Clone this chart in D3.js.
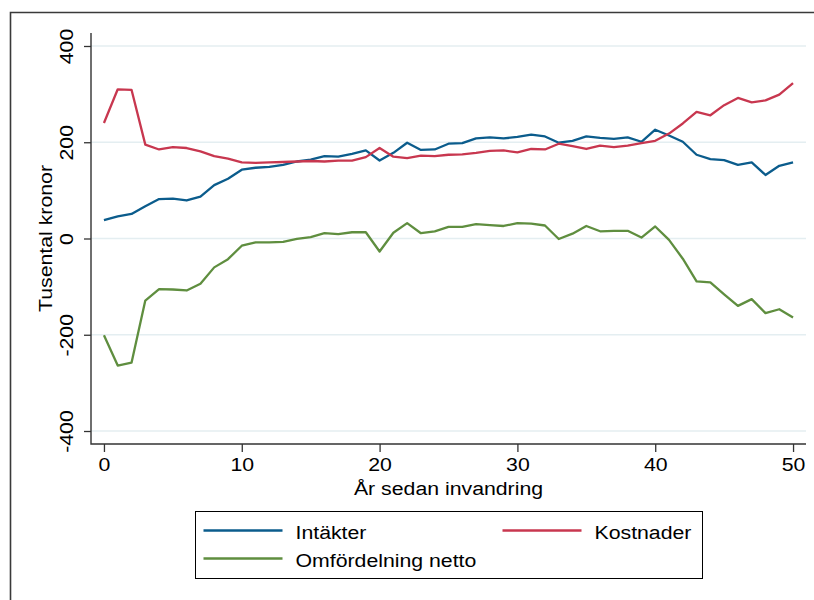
<!DOCTYPE html>
<html>
<head>
<meta charset="utf-8">
<script src="https://cdn.jsdelivr.net/npm/d3@7"></script>
<style>
  body { margin: 0; background: #fff; }
  text { font-family: Arial, "Liberation Sans", sans-serif; fill: #000; }
</style>
</head>
<body>
<div id="chart"></div>
<script>
// years since immigration (x)
const years = d3.range(0, 51);

// series values, tusental kronor
const intakter = [38, 46, 51, 67, 82, 83, 79, 87, 111, 124, 143, 147, 149, 153, 160, 164, 171, 170, 176, 183,
  162, 178, 199, 184, 185, 197, 198, 208, 210, 208, 211, 216, 212, 199, 203, 212, 209, 207, 210, 201,
  226, 214, 201, 174, 165, 163, 153, 158, 132, 151, 158];
const kostnader = [240, 310, 309, 195, 185, 190, 188, 181, 171, 166, 158, 157, 158, 159, 160, 161, 160, 162, 162, 169,
  188, 170, 167, 172, 171, 174, 175, 178, 182, 183, 179, 186, 185, 197, 192, 186, 193, 190, 193, 198,
  203, 218, 239, 263, 256, 277, 292, 283, 287, 299, 323];
const netto = [-201, -264, -258, -129, -105, -106, -108, -94, -60, -43, -15, -8, -8, -7, -1, 3, 11, 9, 13, 13,
  -27, 12, 32, 11, 15, 24, 24, 30, 28, 26, 32, 31, 27, -1, 10, 26, 15, 16, 16, 2,
  25, -3, -42, -89, -91, -116, -140, -126, -155, -147, -164];

const seriesNames = ["Intäkter", "Kostnader", "Omfördelning netto"];
const seriesColors = ["#0b5c8c", "#c8374f", "#5f8e3f"];
const yTicks = [-400, -200, 0, 200, 400];
const xTicks = [0, 10, 20, 30, 40, 50];

const width = 814, height = 600;
const plot = { left: 91, right: 806, top: 33, bottom: 444 };
const fontSize = "19px";
const stretch = "scale(1.12,1)";   // stata text is a bit wider than plain arial

const svg = d3.select("#chart").append("svg")
  .attr("width", width)
  .attr("height", height);

// outer graph frame (cut off on the right and bottom)
svg.append("path")
  .attr("d", `M10.5,${height + 2}V12.5H${width + 2}`)
  .attr("fill", "none")
  .attr("stroke", "#3a3a3a")
  .attr("stroke-width", 1.6);

// scales
const x = d3.scaleLinear().domain([-0.94, 50.94]).range([plot.left, plot.right]);
const y = d3.scaleLinear().domain([-427, 427]).range([plot.bottom, plot.top]);

// grid lines
svg.append("g")
  .selectAll("line")
  .data(yTicks)
  .join("line")
  .attr("x1", plot.left)
  .attr("x2", plot.right)
  .attr("y1", d => y(d))
  .attr("y2", d => y(d))
  .attr("stroke", "#e4eef1")
  .attr("stroke-width", 1.4);

// y axis
const yAxis = svg.append("g")
  .attr("transform", `translate(${plot.left},0)`)
  .call(d3.axisLeft(y).tickValues(yTicks).tickSize(7).tickPadding(0).tickFormat(d => String(d)));
yAxis.select(".domain").remove();
yAxis.selectAll(".tick line").attr("stroke", "#333").attr("stroke-width", 1.3);
yAxis.selectAll(".tick text")
  .attr("x", null).attr("dy", null)
  .attr("text-anchor", "middle")
  .attr("transform", `translate(-18,0) rotate(-90) ${stretch}`)
  .style("font-size", fontSize)
  .style("font-family", "Arial, 'Liberation Sans', sans-serif");

// x axis
const xAxis = svg.append("g")
  .attr("transform", `translate(0,${plot.bottom})`)
  .call(d3.axisBottom(x).tickValues(xTicks).tickSize(8).tickPadding(6));
xAxis.select(".domain").remove();
xAxis.selectAll(".tick line").attr("stroke", "#333").attr("stroke-width", 1.3);
xAxis.selectAll(".tick text")
  .attr("transform", stretch)
  .style("font-size", fontSize)
  .style("font-family", "Arial, 'Liberation Sans', sans-serif");

// axis lines
svg.append("path")
  .attr("d", `M${plot.left},${plot.top}V${plot.bottom}H${plot.right}`)
  .attr("fill", "none")
  .attr("stroke", "#333")
  .attr("stroke-width", 1.4);

// axis titles
svg.append("text")
  .attr("transform", `translate(52,${(plot.top + plot.bottom) / 2}) rotate(-90) ${stretch}`)
  .attr("text-anchor", "middle")
  .style("font-size", fontSize)
  .text("Tusental kronor");

svg.append("text")
  .attr("transform", `translate(${(plot.left + plot.right) / 2},494.5) ${stretch}`)
  .attr("text-anchor", "middle")
  .style("font-size", fontSize)
  .text("År sedan invandring");

// lines
const seriesData = [intakter, kostnader, netto];
const line = d3.line()
  .x((d, i) => x(years[i]))
  .y(d => y(d));

svg.append("g")
  .selectAll("path")
  .data(seriesData)
  .join("path")
  .attr("d", d => line(d))
  .attr("fill", "none")
  .attr("stroke", (d, i) => seriesColors[i])
  .attr("stroke-width", 2.3)
  .attr("stroke-linejoin", "round");

// legend
const legend = svg.append("g").attr("transform", "translate(195.5,511.5)");
legend.append("rect")
  .attr("width", 507)
  .attr("height", 67)
  .attr("fill", "#fff")
  .attr("stroke", "#000")
  .attr("stroke-width", 1);

const legendPos = [[8, 19], [307, 19], [8, 47]];
const items = legend.selectAll("g.item")
  .data(seriesNames)
  .join("g")
  .attr("class", "item")
  .attr("transform", (d, i) => `translate(${legendPos[i][0]},${legendPos[i][1]})`);
items.append("line")
  .attr("x1", 0).attr("x2", 79)
  .attr("stroke", (d, i) => seriesColors[i])
  .attr("stroke-width", 2.3);
items.append("text")
  .attr("transform", `translate(92,8) ${stretch}`)
  .style("font-size", fontSize)
  .text(d => d);
</script>
</body>
</html>
